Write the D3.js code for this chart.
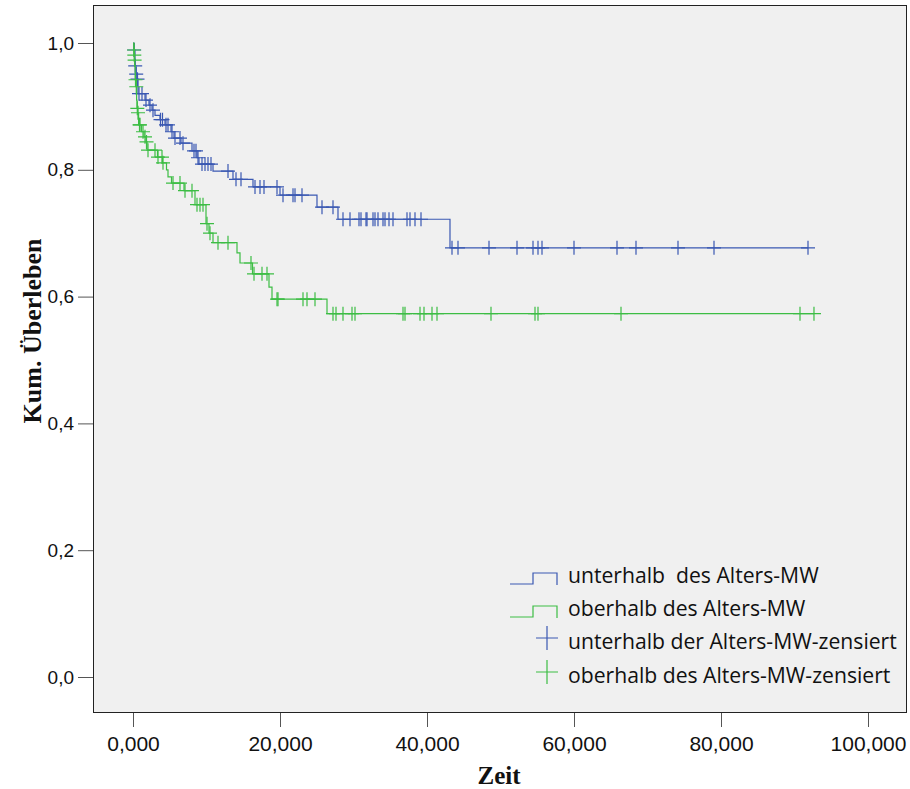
<!DOCTYPE html>
<html><head><meta charset="utf-8">
<script src="https://cdn.jsdelivr.net/npm/d3@7"></script>
<style>
html,body{margin:0;padding:0;background:#fff;}
svg{display:block;}
</style></head>
<body><svg id="chart" width="910" height="789"></svg>
<script>
// ---- data (Zeit, Kum. Überleben) ----
const xTicks = [0, 20, 40, 60, 80, 100];
const yTicks = [0, 0.2, 0.4, 0.6, 0.8, 1.0];

const seriesNames = ["unterhalb  des Alters-MW", "oberhalb des Alters-MW"];
const censorNames = ["unterhalb der Alters-MW-zensiert", "oberhalb des Alters-MW-zensiert"];

// group 1: unterhalb des Alters-MW — event times and survival after each drop
const blueStepTimes = [0.136, 0.272, 0.408, 0.544, 0.680, 1.633, 2.177, 2.585, 2.993, 3.673, 4.354, 5.170, 5.578, 6.530, 8.027, 8.707, 8.979, 10.884, 13.605, 16.326, 20.000, 25.033, 27.890, 43.128];
const blueStepSurv  = [0.989, 0.964, 0.951, 0.943, 0.920, 0.910, 0.902, 0.894, 0.886, 0.879, 0.871, 0.860, 0.850, 0.842, 0.830, 0.819, 0.809, 0.798, 0.785, 0.773, 0.760, 0.741, 0.722, 0.677];
const blueCensor = [0.163, 0.299, 0.435, 0.612, 0.816, 1.224, 1.769, 2.313, 2.721, 3.741, 4.013, 4.490, 4.762, 5.306, 5.714, 6.394, 6.802, 8.299, 8.571, 8.843, 9.387, 9.796, 10.204, 10.612, 12.925, 14.014, 14.694, 16.599, 17.279, 17.823, 19.592, 20.408, 21.769, 22.041, 22.993, 25.714, 27.211, 28.571, 29.524, 30.748, 31.020, 31.701, 31.837, 32.653, 32.925, 33.333, 34.014, 34.286, 34.830, 35.374, 37.279, 37.687, 38.367, 39.184, 43.401, 44.218, 48.435, 52.245, 54.422, 55.102, 55.646, 60.000, 65.850, 68.435, 74.150, 79.048, 91.837];

// group 2: oberhalb des Alters-MW
const greenStepTimes = [0.109, 0.150, 0.190, 0.231, 0.299, 0.408, 0.490, 0.544, 0.626, 0.762, 1.156, 1.497, 1.769, 1.905, 3.333, 4.013, 4.558, 4.762, 5.238, 6.939, 8.435, 9.932, 10.340, 10.884, 14.150, 14.558, 16.259, 18.503, 18.912, 26.395];
const greenStepSurv  = [0.989, 0.981, 0.973, 0.964, 0.942, 0.931, 0.910, 0.897, 0.890, 0.871, 0.860, 0.852, 0.844, 0.831, 0.820, 0.811, 0.800, 0.789, 0.779, 0.767, 0.745, 0.715, 0.700, 0.685, 0.669, 0.653, 0.636, 0.615, 0.596, 0.573];
const greenCensor = [0.136, 0.177, 0.218, 0.340, 0.449, 0.585, 0.680, 0.884, 0.952, 1.361, 1.633, 1.837, 2.041, 2.993, 3.401, 3.946, 4.082, 5.442, 6.394, 7.075, 8.027, 8.707, 9.115, 9.524, 10.068, 10.476, 11.565, 12.925, 16.054, 16.463, 17.551, 18.231, 19.592, 19.728, 23.129, 23.673, 24.762, 27.211, 27.619, 28.571, 29.796, 30.204, 36.735, 37.007, 39.048, 39.592, 40.680, 41.361, 48.707, 54.694, 55.102, 66.395, 90.748, 92.650];

// ---- layout ----
const svg = d3.select("#chart");
const frame = {left: 93, top: 5, right: 907, bottom: 713};
const BLUE = "#3a58b2", GREEN = "#3cbd44";

const x = d3.scaleLinear()
  .domain([-5.4422, 105.306])
  .range([frame.left, frame.right]);
const y = d3.scaleLinear()
  .domain([-0.05678, 1.05994])
  .range([frame.bottom, frame.top]);

const de = d3.formatLocale({decimal: ",", thousands: ".", grouping: [3], currency: ["", "€"]});

svg.append("rect")
  .attr("x", frame.left).attr("y", frame.top)
  .attr("width", frame.right - frame.left).attr("height", frame.bottom - frame.top)
  .attr("fill", "#f0f0f0").attr("stroke", "none");

// axes
const xAxis = d3.axisBottom(x).tickValues(xTicks).tickFormat(de.format(".3f")).tickSize(14).tickPadding(5);
const gx = svg.append("g").attr("transform", `translate(0,${frame.bottom})`).call(xAxis);
gx.select(".domain").remove();
gx.selectAll(".tick line").attr("stroke", "#555");
gx.selectAll(".tick text").attr("fill", "#111")
  .style("font-family", "'Liberation Sans',Arial,sans-serif")
  .style("font-size", "21px").attr("dy", "0.9em");

const yAxis = d3.axisLeft(y).tickValues(yTicks).tickFormat(de.format(".1f")).tickSize(15).tickPadding(4);
const gy = svg.append("g").attr("transform", `translate(${frame.left},0)`).call(yAxis);
gy.select(".domain").remove();
gy.selectAll(".tick line").attr("stroke", "#555");
gy.selectAll(".tick text").attr("fill", "#111")
  .style("font-family", "'Liberation Sans',Arial,sans-serif").style("font-size", "19px");

// frame
svg.append("rect")
  .attr("x", frame.left + 0.5).attr("y", frame.top + 0.5)
  .attr("width", frame.right - frame.left - 1).attr("height", frame.bottom - frame.top - 1)
  .attr("fill", "none").attr("stroke", "#222").attr("stroke-width", 1);

// KM step curves
function stepPoints(times, surv, endT) {
  const pts = [[0, 1]];
  let s = 1;
  times.forEach((t, i) => { pts.push([t, s]); s = surv[i]; pts.push([t, s]); });
  pts.push([endT, s]);
  return pts;
}
function survAt(times, surv, t) {
  let s = 1;
  for (let i = 0; i < times.length; i++) { if (times[i] <= t) s = surv[i]; }
  return s;
}
const line = d3.line().x(d => x(d[0])).y(d => y(d[1]));

const groups = [
  {times: blueStepTimes, surv: blueStepSurv, cens: blueCensor, color: BLUE},
  {times: greenStepTimes, surv: greenStepSurv, cens: greenCensor, color: GREEN}
];

groups.forEach(g => {
  const endT = d3.max(g.cens);
  svg.append("path")
    .attr("d", line(stepPoints(g.times, g.surv, endT)))
    .attr("fill", "none").attr("stroke", g.color).attr("stroke-width", 1.2);
  const cg = svg.append("g").attr("stroke", g.color).attr("stroke-width", 1.2).attr("fill", "none");
  g.cens.forEach(t => {
    const cx = x(t), cy = y(survAt(g.times, g.surv, t));
    cg.append("path").attr("d", `M${cx - 7},${cy}H${cx + 7}M${cx},${cy - 7}V${cy + 7}`);
  });
});

// axis titles
svg.append("text")
  .attr("transform", `translate(41,331) rotate(-90)`)
  .attr("text-anchor", "middle")
  .style("font-family", "'Liberation Serif','Times New Roman',serif")
  .style("font-weight", "bold").style("font-size", "26px").attr("fill", "#111")
  .text("Kum. Überleben");
svg.append("text")
  .attr("x", 499).attr("y", 784).attr("text-anchor", "middle")
  .style("font-family", "'Liberation Serif','Times New Roman',serif")
  .style("font-weight", "bold").style("font-size", "25px").attr("fill", "#111")
  .text("Zeit");

// legend
const legend = svg.append("g");
const rows = [
  {name: seriesNames[0], color: BLUE, kind: "line", base: 583},
  {name: seriesNames[1], color: GREEN, kind: "line", base: 616},
  {name: censorNames[0], color: BLUE, kind: "cross", base: 649},
  {name: censorNames[1], color: GREEN, kind: "cross", base: 683}
];
const texts = [];
rows.forEach(r => {
  if (r.kind === "line") {
    const lo = r.base + 1, hi = r.base - 10;
    legend.append("path")
      .attr("d", `M510,${lo}H533V${hi}H557V${lo + 1}`)
      .attr("fill", "none").attr("stroke", r.color).attr("stroke-width", 1.2);
  } else {
    const cy = r.base - 11;
    legend.append("path")
      .attr("d", `M536,${cy}H558M547,${cy - 12}V${cy + 12}`)
      .attr("fill", "none").attr("stroke", r.color).attr("stroke-width", 1.2);
  }
  texts.push(legend.append("text")
    .attr("x", 568).attr("y", r.base)
    .style("font-family", "'Open Sans','Noto Sans',sans-serif")
    .style("font-size", "20px").style("white-space", "pre").attr("fill", "#111")
    .text(r.name));
});
// fit legend font so the longest entry spans like the reference (~329px)
const w = texts[2].node().getComputedTextLength();
const fs = Math.min(22, 20 * 329 / w);
texts.forEach(t => t.style("font-size", fs + "px"));
</script></body></html>
